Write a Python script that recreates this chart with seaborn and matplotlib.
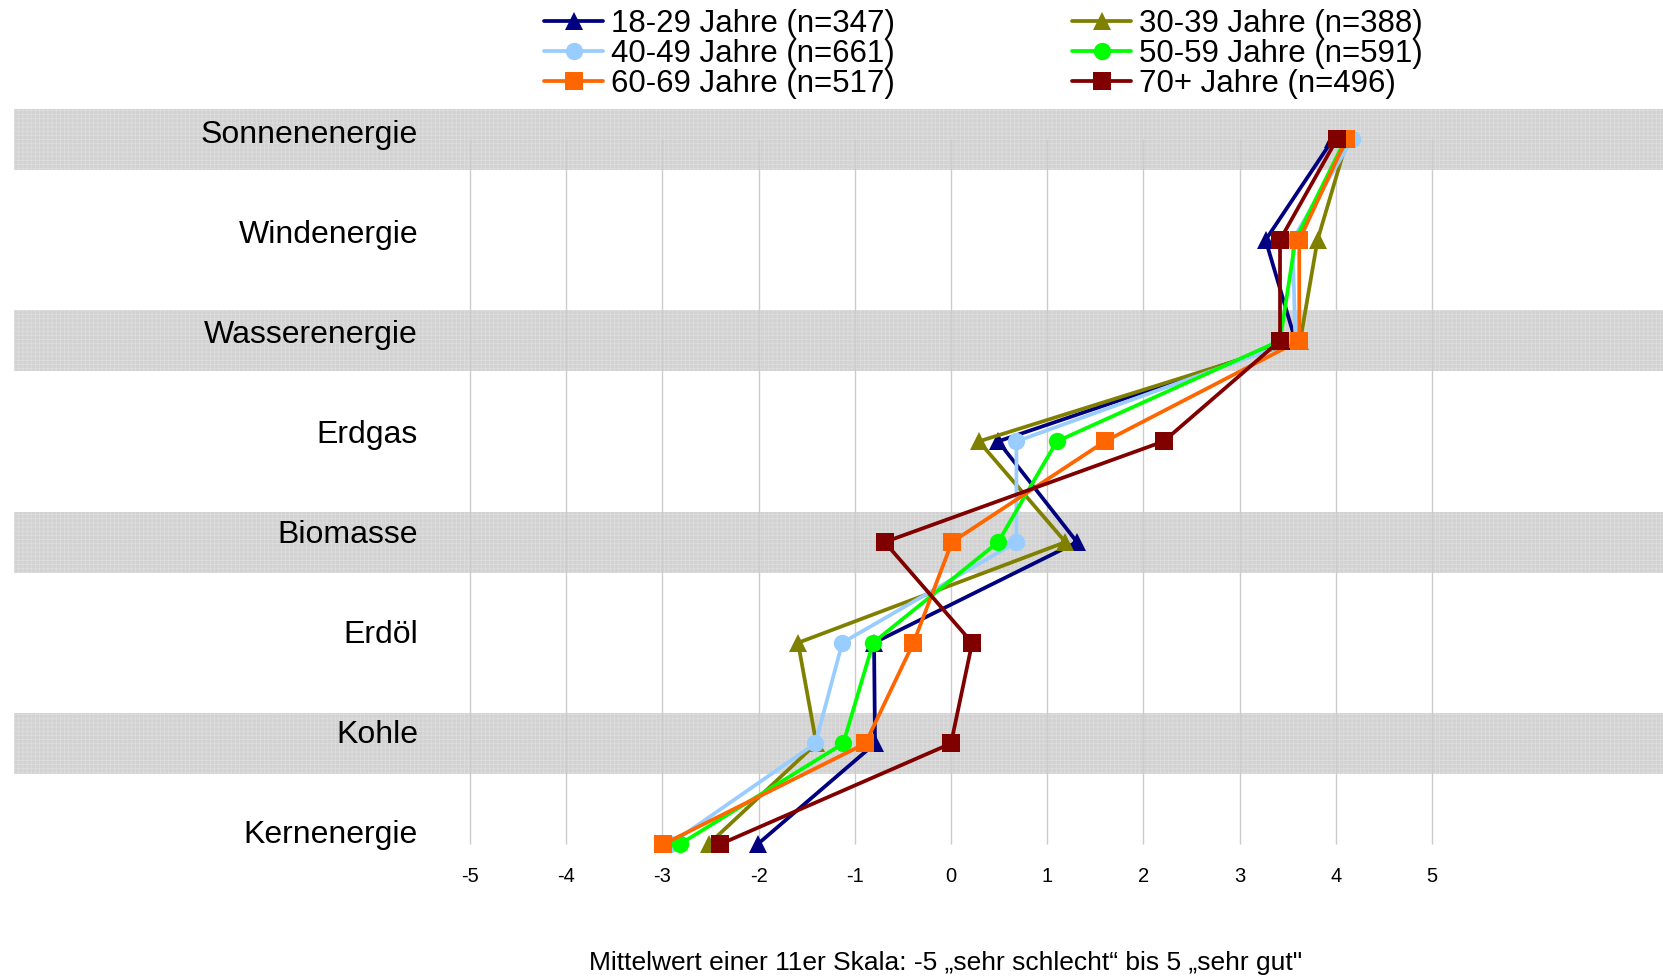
import numpy as np
import pandas as pd
import matplotlib
matplotlib.use("Agg")
import matplotlib.pyplot as plt
import seaborn as sns

# Energy sources (top to bottom) and mean ratings per age group
categories = ["Sonnenenergie", "Windenergie", "Wasserenergie", "Erdgas",
              "Biomasse", "Erdöl", "Kohle", "Kernenergie"]

groups = ["18-29 Jahre (n=347)", "30-39 Jahre (n=388)", "40-49 Jahre (n=661)",
          "50-59 Jahre (n=591)", "60-69 Jahre (n=517)", "70+ Jahre (n=496)"]

age_18_29 = [3.97, 3.27, 3.58, 0.49, 1.31, -0.80, -0.79, -2.01]
age_30_39 = [4.12, 3.81, 3.63, 0.29, 1.19, -1.59, -1.40, -2.52]
age_40_49 = [4.17, 3.55, 3.58, 0.68, 0.68, -1.13, -1.41, -2.92]
age_50_59 = [4.10, 3.58, 3.42, 1.10, 0.49, -0.81, -1.12, -2.82]
age_60_69 = [4.11, 3.62, 3.62, 1.60, 0.01, -0.39, -0.89, -2.99]
age_70_plus = [4.01, 3.42, 3.42, 2.21, -0.69, 0.22, 0.00, -2.40]

tick_values = [-5, -4, -3, -2, -1, 0, 1, 2, 3, 4, 5]
x_label = "Mittelwert einer 11er Skala: -5 \u201esehr schlecht\u201c bis 5 \u201esehr gut\""

series = [age_18_29, age_30_39, age_40_49, age_50_59, age_60_69, age_70_plus]
colors = ["#000080", "#808000", "#99CCFF", "#00FF00", "#FF6600", "#800000"]
markers = ["^", "^", "o", "o", "s", "s"]
msizes = [13, 13, 12.5, 12.5, 13.5, 13.5]

sns.set_style("white")
plt.rcParams["font.family"] = ["Liberation Sans", "DejaVu Sans"]
plt.rcParams["axes.unicode_minus"] = False
plt.rcParams["hatch.linewidth"] = 0.6
plt.rcParams["text.color"] = "black"
plt.rcParams["xtick.color"] = "black"
plt.rcParams["xtick.labelcolor"] = "black"

W, H = 1663, 977
fig = plt.figure(figsize=(W / 100, H / 100), dpi=100)
ax = fig.add_axes([14 / W, 1 - 860 / H, (W - 14) / W, 760 / H])

pos = np.arange(len(categories))

# alternating shaded rows
for i in range(0, len(categories), 2):
    ax.axhspan(i - 0.303, i + 0.303, facecolor="#d2d2d2", edgecolor="#dddddd",
               hatch="++++", linewidth=0, zorder=0)

# vertical grid lines over the scale range
ax.vlines(tick_values, 0, len(categories) - 1, colors="#cccccc", linewidth=1.0, zorder=1)

handles = []
for name, vals, c, m, ms in zip(groups, series, colors, markers, msizes):
    df = pd.DataFrame({"wert": vals, "pos": pos})
    sns.lineplot(data=df, x="wert", y="pos", sort=False, orient="y", estimator=None,
                 color=c, marker=m, markersize=ms, markeredgewidth=0,
                 linewidth=2.7, ax=ax, zorder=3, legend=False)
    handles.append(ax.get_lines()[-1])

# category labels
for i, cat in enumerate(categories):
    ax.text(-5.54, i * 0.9924 + 0.04, cat, ha="right", va="baseline",
            fontsize=23, color="black", zorder=4)

ax.set_xlim(-9.740, 7.401)
ax.set_ylim(7.157, -0.390)
ax.set_xticks(tick_values)
ax.set_xticklabels([str(v) for v in tick_values])
ax.set_yticks([])
ax.tick_params(axis="x", length=0, pad=5.0, labelsize=14.5, labelcolor="black")
ax.set_xlabel("")
ax.set_ylabel("")
for s in ax.spines.values():
    s.set_visible(False)

fig.text(946 / W, 1 - 963 / H, x_label, ha="center", va="center", fontsize=19,
         color="black")

legend_kw = dict(frameon=False, fontsize=22.5, handlelength=1.9, handletextpad=0.25,
                 labelspacing=0.0, borderpad=0, borderaxespad=0, loc="upper left",
                 labelcolor="black")
leg1 = fig.legend([handles[0], handles[2], handles[4]], [groups[0], groups[2], groups[4]],
                  bbox_to_anchor=(544 / W, 1 - 9 / H), **legend_kw)
leg2 = fig.legend([handles[1], handles[3], handles[5]], [groups[1], groups[3], groups[5]],
                  bbox_to_anchor=(1072 / W, 1 - 9 / H), **legend_kw)

fig.savefig("out.png", dpi=100)
